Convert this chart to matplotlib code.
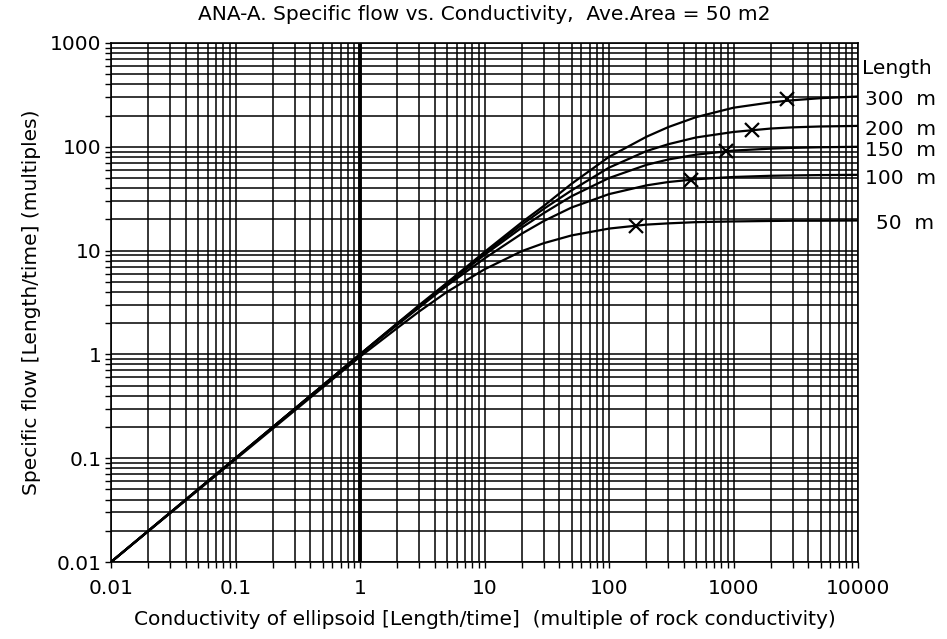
#!/usr/bin/env python

import numpy as np
import matplotlib
matplotlib.use('Agg')
import matplotlib.pyplot as plt
from matplotlib.ticker import LogLocator, NullFormatter, FixedLocator

# conductivity of ellipsoid (multiple of rock conductivity)
cond = [0.01, 1, 2, 3, 5, 10, 20, 30, 50, 100, 200, 300, 500,
        1000, 2000, 3000, 5000, 10000]

# specific flow for each ellipsoid length
flow_300 = [0.01, 1.0, 2.0, 3.0, 4.9, 9.7, 18.8, 27, 44, 80, 125, 155, 193,
            238, 268, 281, 294, 305]
flow_200 = [0.01, 1.0, 2.0, 2.9, 4.85, 9.4, 17.8, 25.3, 38, 63, 91, 106, 123,
            139, 150, 154, 157, 159]
flow_150 = [0.01, 1.0, 1.96, 2.9, 4.75, 9.1, 16.7, 23, 33.4, 50, 67, 75.5, 84,
            92, 96, 97.7, 99, 100]
flow_100 = [0.01, 1.0, 1.93, 2.84, 4.6, 8.4, 14.6, 19.3, 26, 35, 42.5, 45.8,
            48.7, 51.2, 52.6, 53, 53.4, 53.7]
flow_50 = [0.01, 0.95, 1.8, 2.6, 4.0, 6.6, 9.9, 11.8, 14.0, 16.3, 17.8, 18.3,
           18.8, 19.1, 19.3, 19.4, 19.4, 19.5]

# marked points (x) on each curve
mark_x = [2690, 1409, 870, 456, 165]
mark_y = [289, 145, 91, 48, 17.3]

lengths = ['300  m', '200  m', '150  m', '100  m', '50  m']
curves = [flow_300, flow_200, flow_150, flow_100, flow_50]

xticks = [0.01, 0.1, 1, 10, 100, 1000, 10000]
xlabels = ['0.01', '0.1', '1', '10', '100', '1000', '10000']
yticks = [0.01, 0.1, 1, 10, 100, 1000]
ylabels = ['0.01', '0.1', '1', '10', '100', '1000']

plt.rcParams['font.family'] = ['DejaVu Sans']
FS = 14.5

fig = plt.figure(figsize=(9.47, 6.39), dpi=100)
ax = fig.add_axes([111/947., 1 - 562/639., 747/947., 519/639.])
ax.set_xscale('log')
ax.set_yscale('log')
ax.set_xlim(0.01, 10000)
ax.set_ylim(0.01, 1000)

#grid, major and minor alike
ax.xaxis.set_major_locator(FixedLocator(xticks))
ax.yaxis.set_major_locator(FixedLocator(yticks))
ax.xaxis.set_minor_locator(LogLocator(base=10, subs=np.arange(2, 10), numticks=20))
ax.yaxis.set_minor_locator(LogLocator(base=10, subs=np.arange(2, 10), numticks=20))
ax.xaxis.set_minor_formatter(NullFormatter())
ax.yaxis.set_minor_formatter(NullFormatter())
ax.set_xticklabels(xlabels)
ax.set_yticklabels(ylabels)
ax.grid(True, which='both', color='black', lw=1.1)
ax.tick_params(which='both', direction='out', length=4, width=1.0,
               labelsize=FS, top=False, right=False)
ax.tick_params(axis='x', which='major', pad=8)
ax.tick_params(axis='y', which='major', pad=3)
for sp in ax.spines.values():
    sp.set_linewidth(1.2)

#thick line at unit conductivity
ax.axvline(1, color='black', lw=2.8)

#curves
for c in curves:
    ax.plot(cond, c, 'k-', lw=1.6)
ax.plot(mark_x, mark_y, 'kx', ms=10, mew=1.6, ls='none')

#labels on right
ax.text(1.005, 574, 'Length', transform=ax.get_yaxis_transform(),
        fontsize=FS, va='center', ha='left')
for lab, c in zip(lengths, curves):
    xoff = 1.01 if len(lab) > 5 else 1.024
    ax.text(xoff, c[-1]*0.93, lab, transform=ax.get_yaxis_transform(),
            fontsize=FS, va='center', ha='left')

fig.text(484/947., 1 - 14/639., 'ANA-A. Specific flow vs. Conductivity,  Ave.Area = 50 m2',
         ha='center', va='center', fontsize=FS)
ax.set_xlabel('Conductivity of ellipsoid [Length/time]  (multiple of rock conductivity)',
              fontsize=FS, labelpad=9)
ax.set_ylabel('Specific flow [Length/time] (multiples)', fontsize=FS, labelpad=6)

fig.savefig('out.png', dpi=100)
